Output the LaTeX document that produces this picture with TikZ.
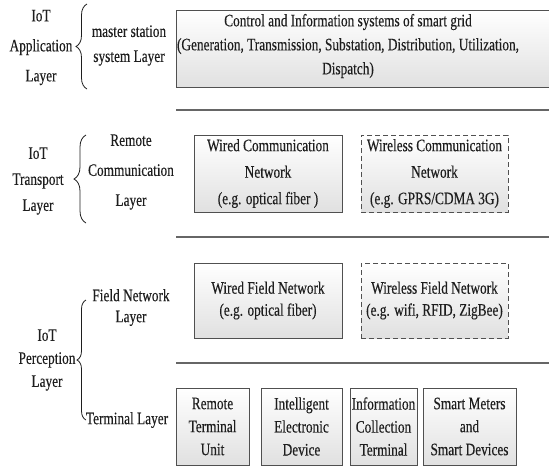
\documentclass[tikz,border=0pt]{standalone}
\usepackage{fontspec}
\setmainfont[FakeStretch=0.76,FakeBold=0.3]{Liberation Serif}
\usetikzlibrary{decorations.pathreplacing}
\definecolor{txt}{HTML}{1E1E1E}
\definecolor{edge}{HTML}{505050}
\definecolor{sepc}{HTML}{666666}
\begin{document}
\begin{tikzpicture}[x=1pt,y=-1pt,
  lbl/.style={font=\fontsize{17.5}{#1}\selectfont, align=center, text=txt, inner sep=0pt},
  lbl/.default=26,
  layerbox/.style 2 args={draw=edge, line width=1pt, top color=white, bottom color=gray!24,
     minimum width=#1, minimum height=#2, inner sep=0pt, align=center, text=txt},
  dashbox/.style={dash pattern=on 5pt off 3pt},
  sepline/.style={draw=sepc, line width=1.6pt},
  bracest/.style={draw=txt, line width=0.8pt, decorate},
]
\useasboundingbox (0,0) rectangle (549,467);

% left labels
\node[lbl=30] (appL) at (41,47.5) {IoT\\Application\\Layer};
\node[lbl=26] (trL) at (38,181) {IoT\\Transport\\Layer};
\node[lbl=23] (perL) at (47,360) {IoT\\Perception\\Layer};

% braces
\coordinate (appB1) at (87,89);
\coordinate (appB2) at (87,4);
\draw[bracest, decoration={brace, amplitude=11pt}] (appB1) -- (appB2);
\coordinate (trB1) at (86,223);
\coordinate (trB2) at (86,135);
\draw[bracest, decoration={brace, amplitude=12pt}] (trB1) -- (trB2);
\coordinate (perB1) at (86,420);
\coordinate (perB2) at (86,300);
\draw[bracest, decoration={brace, amplitude=9pt}] (perB1) -- (perB2);

% second column labels
\node[lbl=25] (msL) at (129,45.5) {master station\\system Layer};
\node[lbl=30] (rcL) at (131,172) {Remote\\Communication\\Layer};
\node[lbl=21] (fnL) at (131,307.5) {Field Network\\Layer};
\node[lbl] (tlL) at (127,420) {Terminal Layer};

% top box
\node[layerbox={384pt}{77pt}] (ctrl) at (368,48.5) {};
\node[lbl=24] (ctrlT) at (348,46)
  {Control and Information systems of smart grid\\(Generation, Transmission, Substation, Distribution, Utilization,\\Dispatch)};

% separators
\coordinate (s1a) at (176,110); \coordinate (s1b) at (549,110);
\coordinate (s2a) at (176,237); \coordinate (s2b) at (549,237);
\coordinate (s3a) at (176,363); \coordinate (s3b) at (549,363);
\draw[sepline] (s1a) -- (s1b);
\draw[sepline] (s2a) -- (s2b);
\draw[sepline] (s3a) -- (s3b);

% transport boxes
\node[layerbox={148pt}{77pt}, font=\fontsize{17.5}{26.5}\selectfont] (wcn) at (268,173.5)
  {Wired Communication\\Network\\(e.g. optical fiber )};
\node[layerbox={147pt}{77pt}, dashbox, font=\fontsize{17.5}{26.5}\selectfont] (wlcn) at (434.5,173.5)
  {Wireless Communication\\Network\\(e.g. GPRS/CDMA 3G)};

% field network boxes
\node[layerbox={148pt}{75pt}, font=\fontsize{17.5}{22}\selectfont] (wfn) at (268,300.5)
  {Wired Field Network\\(e.g. optical fiber)};
\node[layerbox={147pt}{75pt}, dashbox, font=\fontsize{17.5}{22}\selectfont] (wlfn) at (434.5,300.5)
  {Wireless Field Network\\(e.g. wifi, RFID, ZigBee)};

% terminal boxes
\node[layerbox={73pt}{77pt}, font=\fontsize{17.5}{23}\selectfont] (rtu) at (212.5,426.5)
  {Remote\\Terminal\\Unit};
\node[layerbox={81pt}{77pt}, font=\fontsize{17.5}{23}\selectfont] (ied) at (301.5,426.5)
  {Intelligent\\Electronic\\Device};
\node[layerbox={67pt}{77pt}, font=\fontsize{17.5}{23}\selectfont] (ict) at (383.5,426.5)
  {Information\\Collection\\Terminal};
\node[layerbox={93pt}{77pt}, font=\fontsize{17.5}{23}\selectfont] (smd) at (469.5,426.5)
  {Smart Meters\\and\\Smart Devices};
\end{tikzpicture}
\end{document}
